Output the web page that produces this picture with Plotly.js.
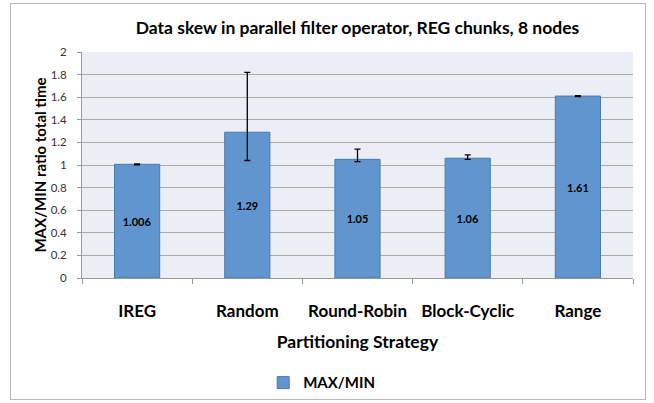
<!DOCTYPE html>
<html><head><meta charset="utf-8">
<script src="https://cdn.plot.ly/plotly-3.0.1.min.js"></script>
<style>
body{margin:0;padding:0;background:#fff;}
#wrap{position:relative;width:654px;height:403px;}
#chart{width:654px;height:403px;}
#frame{position:absolute;left:10px;top:3px;width:634px;height:395px;border:1px solid #b8b8b8;pointer-events:none;}
</style></head>
<body>
<div id="wrap"><div id="chart"></div><div id="frame"></div></div>
<script>
const categories = ["IREG", "Random", "Round-Robin", "Block-Cyclic", "Range"];
const values = [1.006, 1.29, 1.05, 1.06, 1.61];
const labels = ["1.006", "1.29", "1.05", "1.06", "1.61"];
const errPlus = [0.004, 0.53, 0.09, 0.03, 0.004];
const errMinus = [0.004, 0.25, 0.02, 0.01, 0.004];
const yTicks = [0, 0.2, 0.4, 0.6, 0.8, 1, 1.2, 1.4, 1.6, 1.8, 2];
const seriesName = "MAX/MIN";

const font = "Lato, 'Open Sans', sans-serif";
const trace = {
  type: "bar",
  x: categories,
  y: values,
  name: "<b>" + seriesName + "</b>",
  text: labels,
  textposition: "inside",
  insidetextanchor: "middle",
  textangle: 0,
  textfont: {family: font, size: 11, color: "#000", weight: "bold"},
  marker: {color: "#6096cd", line: {color: "#4a79ad", width: 1}},
  error_y: {type: "data", symmetric: false, array: errPlus, arrayminus: errMinus,
            color: "#000", thickness: 1.3, width: 3},
  hoverinfo: "none"
};
const layout = {
  width: 654, height: 403,
  margin: {l: 82, r: 21, t: 52, b: 125},
  paper_bgcolor: "#fff",
  plot_bgcolor: "#ebeef5",
  bargap: 0.59,
  font: {family: font, color: "#222"},
  title: {text: "<b>Data skew in parallel filter operator, REG chunks, 8 nodes</b>",
          font: {family: font, size: 17.5, color: "#000", weight: "bold"}, x: 0.5, xref: "paper", y: 0.93, yref: "container", yanchor: "middle", automargin: false},
  xaxis: {
    type: "category",
    automargin: false,
    tickson: "boundaries",
    tickangle: 0,
    ticks: "outside", ticklen: 5, tickcolor: "#999",
    ticklabelstandoff: 18,
    showline: true, linecolor: "#999", linewidth: 1,
    tickfont: {family: font, size: 17, color: "#000", weight: "bold"},
    title: {text: "<b>Partitioning Strategy</b>", font: {family: font, size: 17.5, color: "#000", weight: "bold"}, standoff: 15},
    showgrid: false
  },
  yaxis: {
    automargin: false,
    range: [0, 2],
    tickvals: yTicks,
    ticktext: yTicks.map(String),
    ticks: "outside", ticklen: 4, tickcolor: "#999",
    ticklabelstandoff: 8,
    showline: true, linecolor: "#999", linewidth: 1,
    gridcolor: "#ababab", gridwidth: 1,
    tickfont: {family: font, size: 11.5, color: "#333"},
    title: {text: "<b>MAX/MIN ratio total time</b>", font: {family: font, size: 15, color: "#000", weight: "bold"}, standoff: 0},
    zeroline: false
  },
  showlegend: true,
  legend: {orientation: "h", x: 0.435, xanchor: "center", xref: "paper", y: 0.05, yref: "container", yanchor: "middle",
           font: {family: font, size: 15, color: "#000", weight: "bold"},
           itemwidth: 30, bgcolor: "rgba(0,0,0,0)"}
};
Plotly.newPlot("chart", [trace], layout, {staticPlot: true, displayModeBar: false});
</script>
</body></html>
